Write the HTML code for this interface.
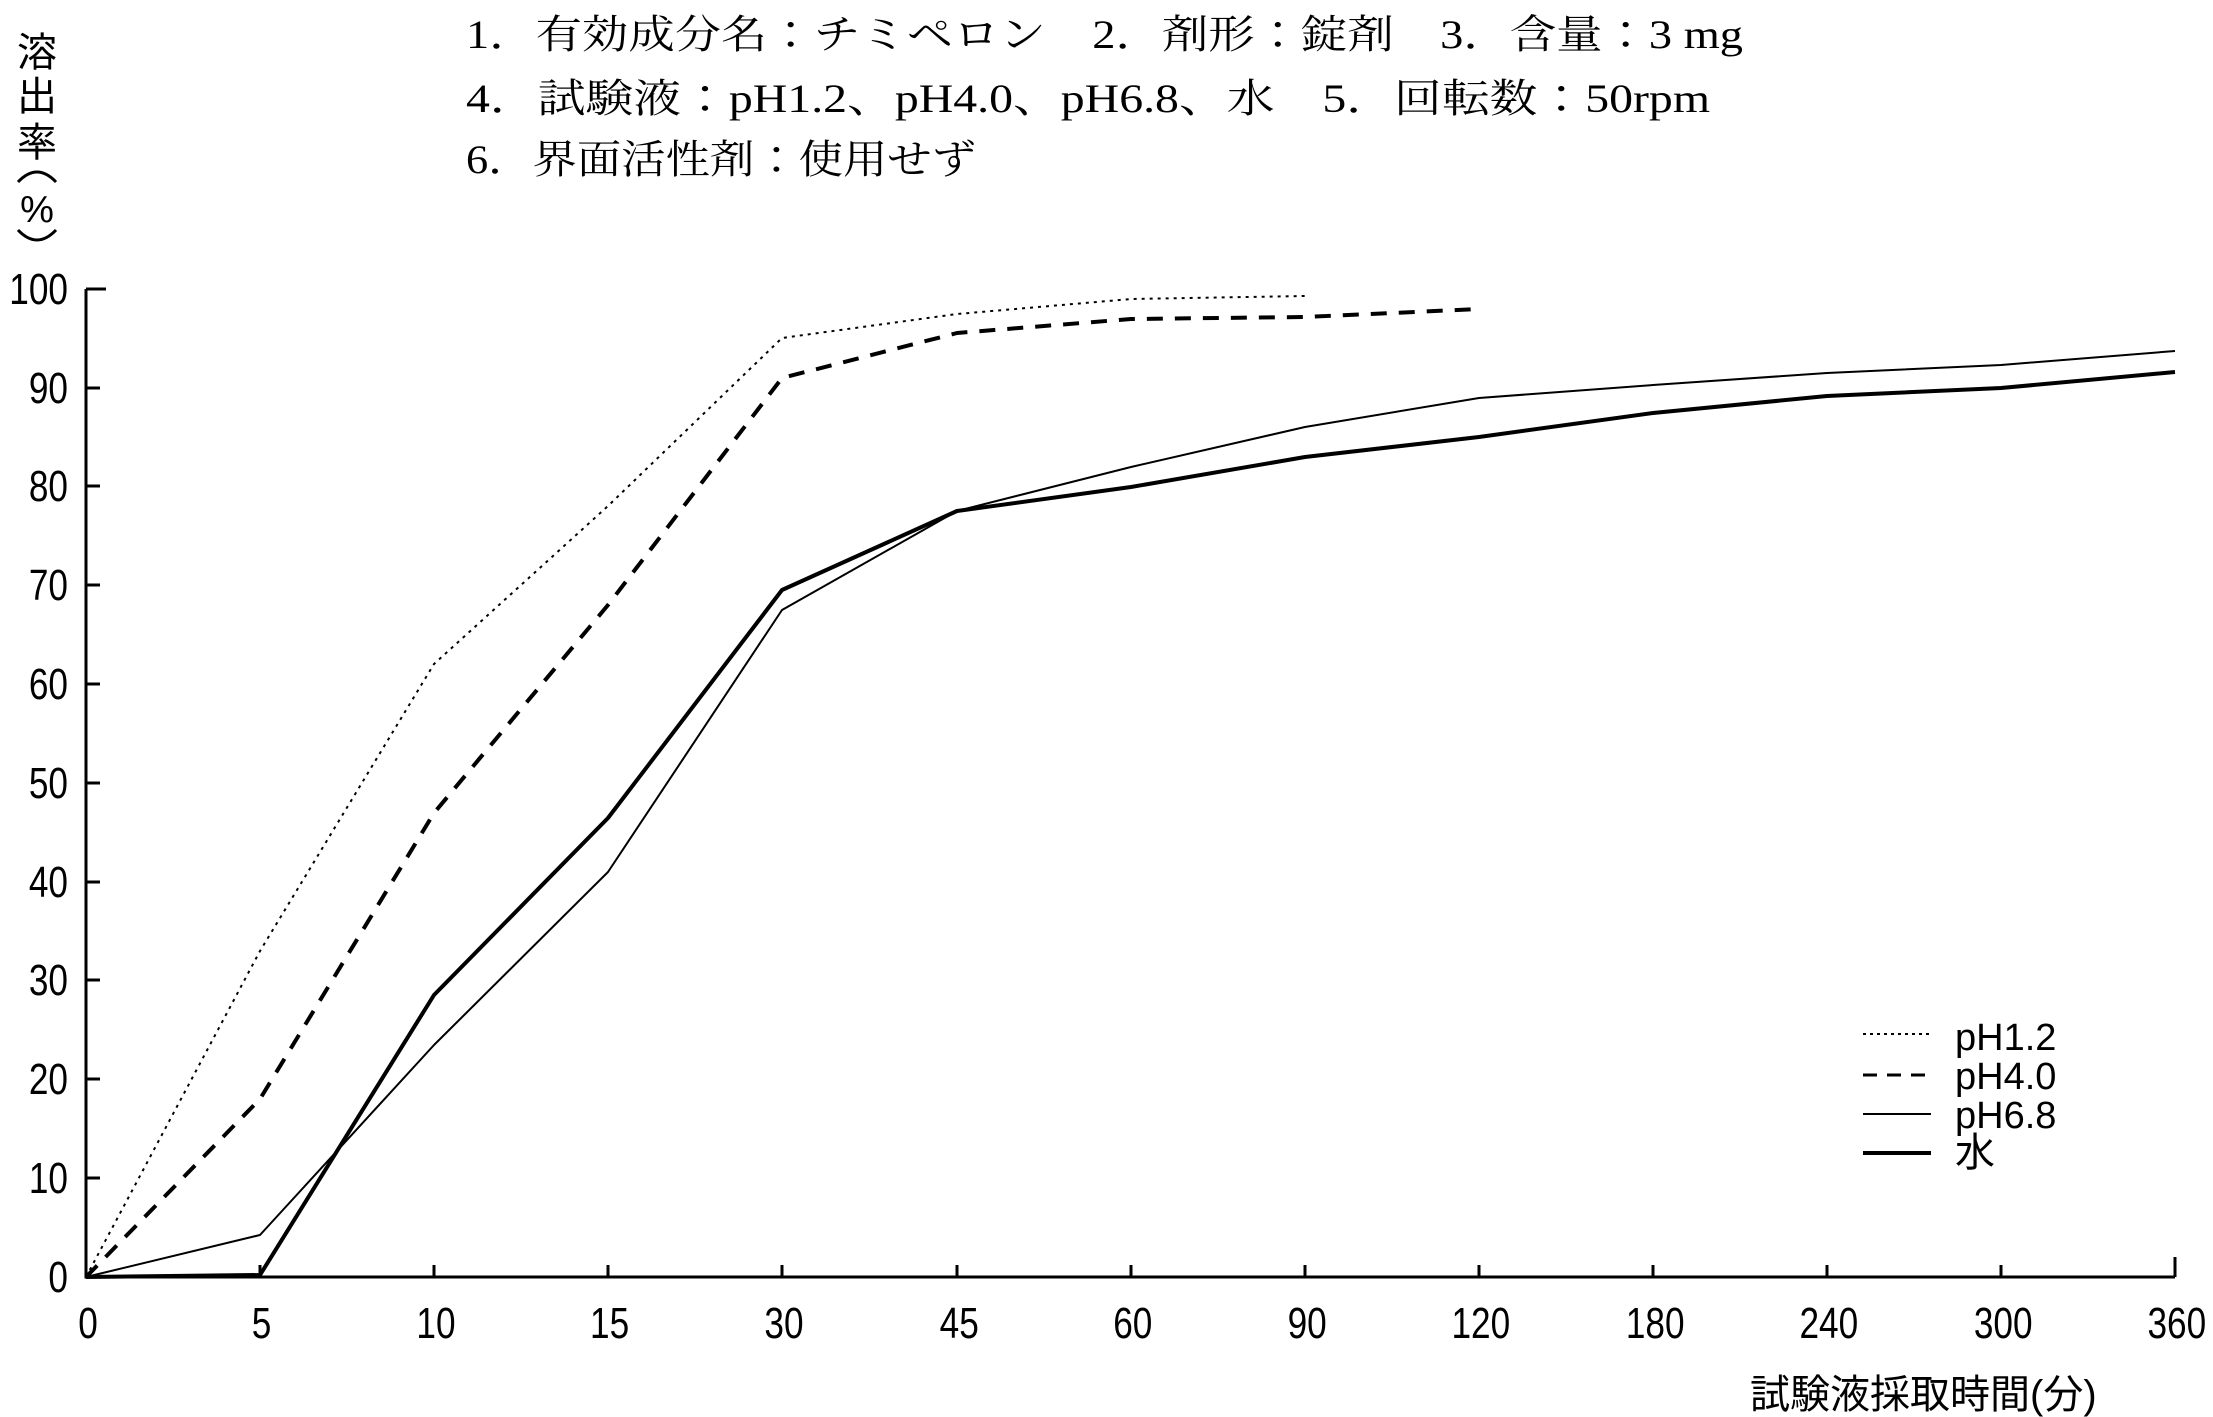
<!DOCTYPE html>
<html><head><meta charset="utf-8"><style>
html,body{margin:0;padding:0;background:#fff;}
svg{display:block;}
.t{font-family:"Liberation Serif","Noto Serif CJK JP","Noto Sans CJK JP",serif;font-size:40px;fill:#000;}
.n{font-family:"Liberation Sans","Noto Sans CJK JP",sans-serif;font-size:38px;fill:#000;}
.d{font-family:"Liberation Sans",sans-serif;font-size:44px;fill:#000;}
.j{font-family:"Liberation Sans","Noto Sans CJK JP",sans-serif;font-size:40px;fill:#000;}
</style></head><body>
<svg width="2213" height="1417" viewBox="0 0 2213 1417" xmlns="http://www.w3.org/2000/svg">
<rect width="2213" height="1417" fill="#fff"/>
<text class="t" x="466" y="48" textLength="1277" lengthAdjust="spacingAndGlyphs">1．有効成分名：チミペロン　2．剤形：錠剤　3．含量：3 mg</text>
<text class="t" x="466" y="112" textLength="1244" lengthAdjust="spacingAndGlyphs">4．試験液：pH1.2、pH4.0、pH6.8、水　5．回転数：50rpm</text>
<text class="t" x="466" y="173" textLength="510" lengthAdjust="spacingAndGlyphs">6．界面活性剤：使用せず</text>
<text class="j" x="37" y="66" text-anchor="middle">溶</text>
<text class="j" x="37" y="110" text-anchor="middle">出</text>
<text class="j" x="37" y="156" text-anchor="middle">率</text>
<path d="M18,182 Q37,162 56,182" fill="none" stroke="#000" stroke-width="3"/>
<text class="n" x="37" y="222" text-anchor="middle">%</text>
<path d="M18,230 Q37,250 56,230" fill="none" stroke="#000" stroke-width="3"/>
<g stroke="#000" stroke-width="3" fill="none">
<path d="M86,289 V1277 H2175"/>
<path d="M86,289h20M86,388h14M86,486h14M86,585h14M86,684h14M86,783h14M86,882h14M86,980h14M86,1079h14M86,1178h14"/>
<path d="M260,1277v-12M434,1277v-12M608,1277v-12M782,1277v-12M957,1277v-12M1131,1277v-12M1305,1277v-12M1479,1277v-12M1653,1277v-12M1827,1277v-12M2001,1277v-12M2175,1277v-20"/>
</g>
<g class="d" text-anchor="end">
<g transform="translate(68,0) scale(0.8,1)">
<text x="0" y="304">100</text><text x="0" y="403">90</text><text x="0" y="501">80</text>
<text x="0" y="600">70</text><text x="0" y="699">60</text><text x="0" y="798">50</text>
<text x="0" y="897">40</text><text x="0" y="995">30</text><text x="0" y="1094">20</text>
<text x="0" y="1193">10</text><text x="0" y="1292">0</text>
</g></g>
<g class="d" text-anchor="middle">
<g transform="scale(0.8,1)">
<text x="110" y="1338">0</text><text x="327" y="1338">5</text><text x="545" y="1338">10</text>
<text x="762" y="1338">15</text><text x="980" y="1338">30</text><text x="1199" y="1338">45</text>
<text x="1416" y="1338">60</text><text x="1634" y="1338">90</text><text x="1851" y="1338">120</text>
<text x="2069" y="1338">180</text><text x="2286" y="1338">240</text><text x="2504" y="1338">300</text>
<text x="2721" y="1338">360</text>
</g></g>
<text class="j" x="1750" y="1408">試験液採取時間(分)</text>
<g fill="none" stroke="#000" stroke-linejoin="round">
<polyline stroke-width="2" stroke-dasharray="3,5" points="86,1277 260,951 434,664 608,506 782,338 957,314 1131,299 1305,296"/>
<polyline stroke-width="4" stroke-dasharray="16,12" points="86,1277 260,1099 434,813 608,605 782,378 957,333 1131,319 1305,317 1479,309"/>
<polyline stroke-width="2" points="86,1277 260,1235 434,1045 608,872 782,610 957,511 1131,467 1305,427 1479,398 1653,385 1827,373 2001,365 2175,351"/>
<polyline stroke-width="4" points="86,1277 260,1275 434,995 608,818 782,590 957,511 1131,487 1305,457 1479,437 1653,413 1827,396 2001,388 2175,372"/>
</g>
<g fill="none" stroke="#000">
<line x1="1863" y1="1034" x2="1930" y2="1034" stroke-width="2" stroke-dasharray="3,4"/>
<line x1="1863" y1="1075" x2="1930" y2="1075" stroke-width="3" stroke-dasharray="14,10"/>
<line x1="1863" y1="1114" x2="1931" y2="1114" stroke-width="2"/>
<line x1="1863" y1="1153" x2="1931" y2="1153" stroke-width="4"/>
</g>
<g class="n">
<text x="1955" y="1050">pH1.2</text>
<text x="1955" y="1089">pH4.0</text>
<text x="1955" y="1128">pH6.8</text>
<text x="1955" y="1166" class="j">水</text>
</g>
</svg>
</body></html>
